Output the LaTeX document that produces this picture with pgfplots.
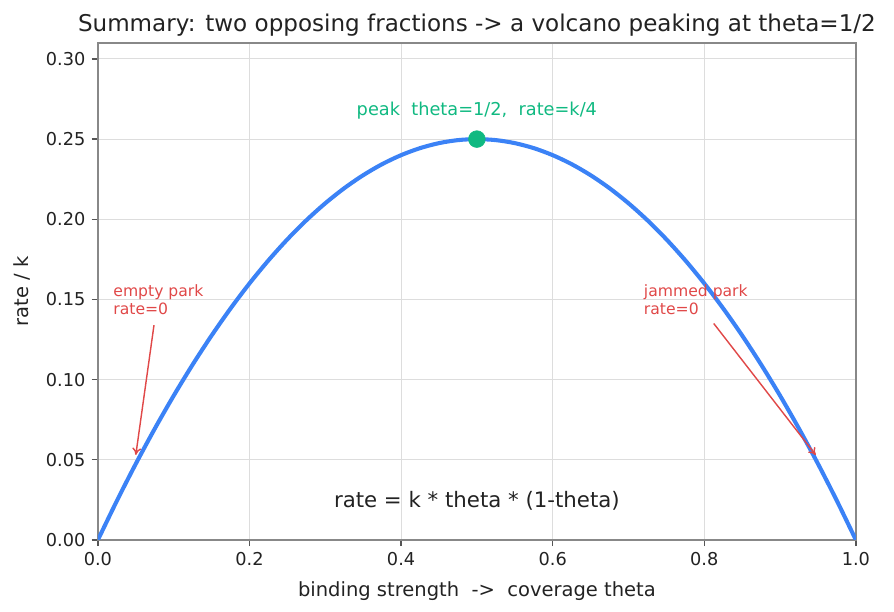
\documentclass[border=0pt]{standalone}
\usepackage{fontspec}
\setmainfont{DejaVu Sans}
\usepackage{pgfplots}
\pgfplotsset{compat=1.18}
\usetikzlibrary{arrows.meta}

\definecolor{curveblue}{HTML}{3B82F6}
\definecolor{peakgreen}{HTML}{10B981}
\definecolor{notered}{HTML}{E04848}
\definecolor{spinegray}{HTML}{888888}
\definecolor{tickgray}{HTML}{555555}
\definecolor{gridgray}{HTML}{DDDDDD}
\definecolor{textdark}{HTML}{222222}

\begin{document}
\begin{tikzpicture}
\path[use as bounding box] (0,0) rectangle (504pt,345pt);
\begin{axis}[
  at={(55.2pt,40.6pt)}, anchor=south west,
  scale only axis, width=427.3pt, height=280.2pt,
  xmin=0, xmax=1, ymin=0, ymax=0.31,
  xtick={0,0.2,0.4,0.6,0.8,1.0},
  ytick={0,0.05,0.10,0.15,0.20,0.25,0.30},
  xticklabel style={/pgf/number format/.cd, fixed, fixed zerofill, precision=1},
  yticklabel style={/pgf/number format/.cd, fixed, fixed zerofill, precision=2},
  /pgf/number format/assume math mode=true,
  ticklabel style={font=\fontsize{10}{12}\selectfont, text=textdark},
  tick align=outside, tick pos=left,
  major tick length=3.5pt,
  tick style={tickgray, line width=0.8pt},
  axis line style={spinegray, line width=0.8pt},
  grid=major, major grid style={gridgray, line width=0.6pt},
  title={Summary: two opposing fractions -> a volcano peaking at theta=1/2},
  title style={font=\fontsize{13}{15}\selectfont, text=textdark, yshift=-6pt},
  xlabel={binding strength\ \ ->\ \ coverage theta},
  ylabel={rate / k},
  label style={font=\fontsize{11}{13}\selectfont, text=textdark},
  xlabel style={yshift=-2pt},
  ylabel style={yshift=2pt},
  clip=true,
]
% rate/k = theta*(1-theta), tabulated
\addplot[curveblue, line width=2.3pt, smooth] coordinates {
 (0,0) (0.025,0.024375) (0.05,0.0475) (0.075,0.069375) (0.1,0.09)
 (0.125,0.109375) (0.15,0.1275) (0.175,0.144375) (0.2,0.16)
 (0.225,0.174375) (0.25,0.1875) (0.275,0.199375) (0.3,0.21)
 (0.325,0.219375) (0.35,0.2275) (0.375,0.234375) (0.4,0.24)
 (0.425,0.244375) (0.45,0.2475) (0.475,0.249375) (0.5,0.25)
 (0.525,0.249375) (0.55,0.2475) (0.575,0.244375) (0.6,0.24)
 (0.625,0.234375) (0.65,0.2275) (0.675,0.219375) (0.7,0.21)
 (0.725,0.199375) (0.75,0.1875) (0.775,0.174375) (0.8,0.16)
 (0.825,0.144375) (0.85,0.1275) (0.875,0.109375) (0.9,0.09)
 (0.925,0.069375) (0.95,0.0475) (0.975,0.024375) (1,0)
};
% peak of the volcano
\addplot[only marks, mark=*, mark size=4.7pt, peakgreen, mark options={draw=peakgreen, fill=peakgreen}] coordinates {(0.5,0.25)};

\node[peakgreen, font=\fontsize{10}{12}\selectfont, anchor=base] at (axis cs:0.5,0.265) {peak\ \ theta=1/2,\ \ rate=k/4};

\node[notered, font=\fontsize{8.8}{10.5}\selectfont, anchor=south west, align=left, inner sep=0pt] at (axis cs:0.02,0.14) {empty park\\rate=0};
\draw[notered, line width=0.8pt, -{To[length=4pt,width=5pt]}] (axis cs:0.074,0.134) -- (axis cs:0.05,0.053);

\node[notered, font=\fontsize{8.8}{10.5}\selectfont, anchor=south west, align=left, inner sep=0pt] at (axis cs:0.72,0.14) {jammed park\\rate=0};
\draw[notered, line width=0.8pt, -{To[length=4pt,width=5pt]}] (axis cs:0.8125,0.135) -- (axis cs:0.947,0.053);

\node[textdark, font=\fontsize{12}{14}\selectfont, anchor=center] at (axis cs:0.5,0.0245) {rate = k * theta * (1-theta)};
\end{axis}
\end{tikzpicture}
\end{document}
